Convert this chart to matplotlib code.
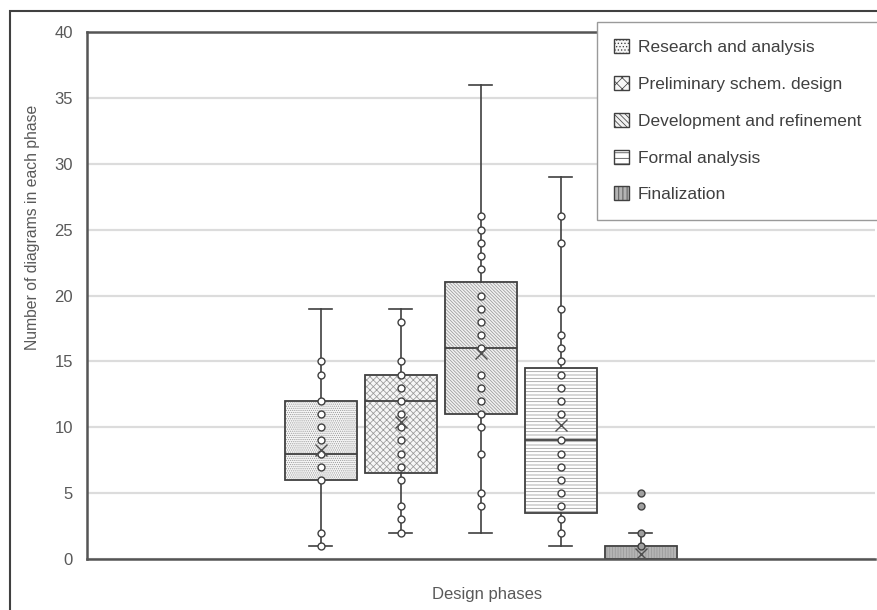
import matplotlib.pyplot as plt
from matplotlib.patches import Patch, PathPatch, Rectangle

plt.rcParams['font.family'] = ['Liberation Sans', 'DejaVu Sans']
plt.rcParams['hatch.linewidth'] = 0.55

# data
phases = ['Research and analysis', 'Preliminary schem. design',
          'Development and refinement', 'Formal analysis', 'Finalization']
q1 = [6, 6.5, 11, 3.5, 0]
med = [8, 12, 16, 9, 0]
q3 = [12, 14, 21, 14.5, 1]
whislo = [1, 2, 2, 1, 0]
whishi = [19, 19, 36, 29, 2]
means = [8.3, 10.4, 15.6, 10.2, 0.4]
points_research = [1, 2, 6, 7, 8, 9, 10, 11, 12, 14, 15]
points_prelim = [2, 3, 4, 6, 7, 8, 9, 10, 11, 12, 13, 14, 15, 18]
points_develop = [4, 5, 8, 10, 11, 12, 13, 14, 16, 17, 18, 19, 20, 22, 23, 24, 25, 26]
points_formal = [2, 3, 4, 5, 6, 7, 8, 9, 11, 12, 13, 14, 15, 16, 17, 19, 24, 26]
points_final = [1, 2, 4, 5]

hatches = ['........', 'xxxxx', '\\' * 10, '-----', '||||||']
leg_hatches = ['.....', 'xxx', '\\' * 6, '---', '||||']
faces = ['#f6f6f6', '#f6f6f6', '#f2f2f2', '#ffffff', '#b4b4b4']
dark = '#404040'

fig = plt.figure(figsize=(8.77, 6.10), dpi=100)
ax = fig.add_axes([87 / 877, 51 / 610, 788 / 877, 527 / 610])

stats = []
for i in range(len(phases)):
    stats.append(dict(q1=q1[i], med=med[i], q3=q3[i], whislo=whislo[i],
                      whishi=whishi[i], mean=means[i], fliers=[]))
pos = [1, 2, 3, 4, 5]
bp = ax.bxp(stats, positions=pos, widths=0.9, capwidths=0.28, patch_artist=True,
            showmeans=True, showfliers=False,
            boxprops=dict(linewidth=1.2),
            whiskerprops=dict(color=dark, linewidth=1.2),
            capprops=dict(color=dark, linewidth=1.2),
            medianprops=dict(color=dark, linewidth=1.3),
            meanprops=dict(marker='x', markersize=9, markeredgecolor='#505050',
                           markeredgewidth=1.0))
for i, box in enumerate(bp['boxes']):
    box.set_facecolor(faces[i])
    box.set_edgecolor('#999999')
    box.set_hatch(hatches[i])
    box.set_zorder(2)
    ax.add_patch(PathPatch(box.get_path(), fill=False, edgecolor=dark,
                           linewidth=1.2, zorder=2.1))
for m in bp['medians']:
    m.set_zorder(2.2)
for m in bp['means']:
    m.set_zorder(4)

all_points = [points_research, points_prelim, points_develop, points_formal, points_final]
for i, pts in enumerate(all_points):
    fc = '#a0a0a0' if i == 4 else 'white'
    ax.plot([pos[i]] * len(pts), pts, linestyle='none', marker='o', markersize=5,
            markerfacecolor=fc, markeredgecolor=dark, markeredgewidth=1.0, zorder=3)

ax.set_xlim(-1.92, 7.93)
ax.set_ylim(0, 40)
ax.set_yticks(range(0, 41, 5))
ax.set_xticks([])
ax.tick_params(axis='y', length=0, pad=10, labelsize=12, labelcolor='#595959')
ax.yaxis.grid(True, color='#dcdcdc', linewidth=1.6)
ax.set_axisbelow(True)
for side in ['left', 'bottom', 'top']:
    ax.spines[side].set_color('#555555')
    ax.spines[side].set_linewidth(1.8)
ax.spines['right'].set_visible(False)

fig.text(33 / 877, 1 - 227 / 610, 'Number of diagrams in each phase', rotation=90,
         ha='center', va='center', fontsize=11.3, color='#595959')
fig.text(487 / 877, 1 - 594 / 610, 'Design phases', ha='center', va='center',
         fontsize=12, color='#595959')

handles = [Patch(facecolor=faces[i], edgecolor=dark, hatch=leg_hatches[i], linewidth=1)
           for i in range(len(phases))]
leg = ax.legend(handles, phases, loc='upper left',
                bbox_to_anchor=(597 / 877, 1 - 218 / 610, 0.36, 196 / 610),
                bbox_transform=fig.transFigure, mode='expand', borderaxespad=0,
                fontsize=12.5, handlelength=0.85, handleheight=0.85,
                handletextpad=0.5, labelspacing=1.2, borderpad=1.0,
                fancybox=False, framealpha=1, edgecolor='#9a9a9a',
                labelcolor='#404040')
leg.get_frame().set_linewidth(1.0)

# outer chart border
fig.patches.append(Rectangle((10 / 877, -0.1), 1.2, 1.1 - 11 / 610, fill=False,
                             edgecolor='#404040', linewidth=1.5,
                             transform=fig.transFigure))

fig.savefig('out.png', dpi=100)
